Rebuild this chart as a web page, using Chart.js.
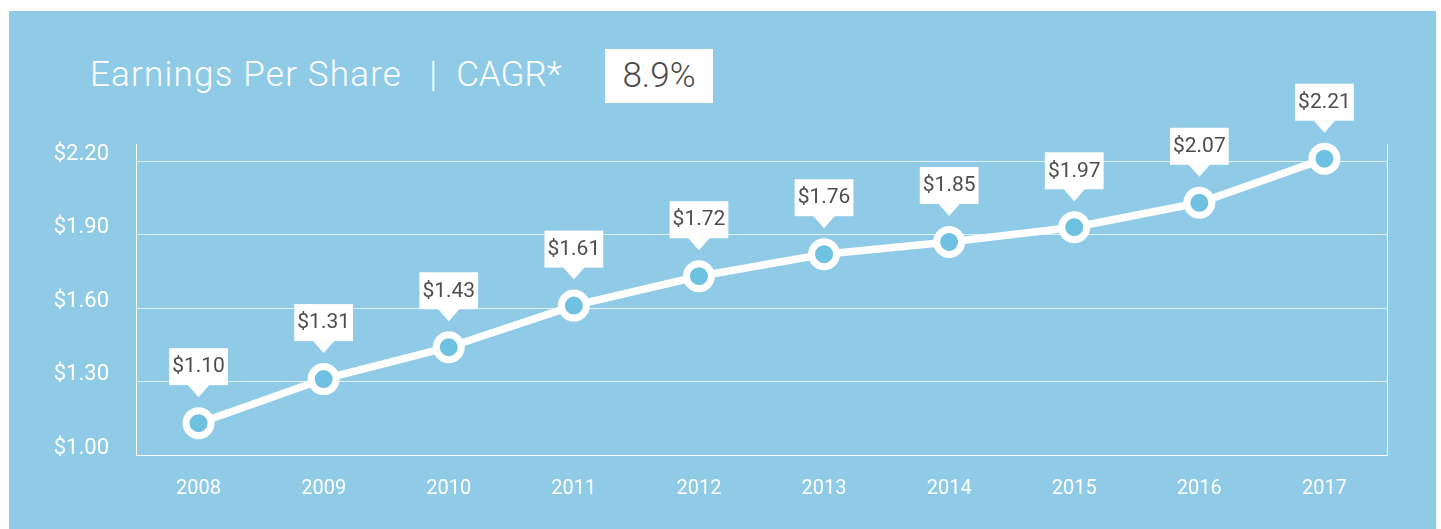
<!DOCTYPE html>
<html>
<head>
<meta charset="utf-8">
<script src="https://cdn.jsdelivr.net/npm/chart.js@4"></script>
<style>
  body { margin: 0; background: #ffffff; font-family: Roboto, 'Open Sans', sans-serif; }
  #panel { position: absolute; left: 9px; top: 11px; width: 1427px; height: 518px; background: #8fcbe7; }
  #title { position: absolute; left: 81px; top: 43px; color: #ffffff; font-size: 35px; font-weight: 300;
           letter-spacing: 1.2px; white-space: nowrap; }
  #title .sep { margin: 0 18px 0 27px; }
  #title .cagr-label { letter-spacing: 0; }
  #cagr { position: absolute; left: 596px; top: 38px; width: 108px; height: 54px; background: #ffffff;
          color: #4a4a4a; font-size: 35px; font-weight: 300; text-align: center; line-height: 54px; }
  #chart { position: absolute; left: 0; top: 0; }
</style>
</head>
<body>
<div id="panel">
  <div id="title">Earnings Per Share<span class="sep">|</span><span class="cagr-label">CAGR*</span></div>
  <div id="cagr">8.9%</div>
  <canvas id="chart" width="1427" height="518"></canvas>
</div>
<script>
  // Years on the x axis
  const years = ['2008', '2009', '2010', '2011', '2012', '2013', '2014', '2015', '2016', '2017'];
  // EPS printed in the callouts
  const eps = [1.10, 1.31, 1.43, 1.61, 1.72, 1.76, 1.85, 1.97, 2.07, 2.21];
  // Heights the points are drawn at in the original
  const plotted = [1.13, 1.31, 1.44, 1.61, 1.73, 1.82, 1.87, 1.93, 2.03, 2.21];
  // Y axis tick values
  const yTicks = [1.00, 1.30, 1.60, 1.90, 2.20];

  // Callout boxes with a small pointer above each point
  const calloutPlugin = {
    id: 'callouts',
    afterDatasetsDraw(chart) {
      const ctx = chart.ctx;
      const meta = chart.getDatasetMeta(0);
      ctx.save();
      ctx.font = '400 21px Roboto';
      ctx.textAlign = 'center';
      ctx.textBaseline = 'middle';
      meta.data.forEach((pt, i) => {
        const text = '$' + eps[i].toFixed(2);
        const w = ctx.measureText(text).width + 6;
        const bottom = pt.y - 38;
        const top = bottom - 37;
        ctx.fillStyle = '#ffffff';
        ctx.fillRect(pt.x - w / 2, top, w, 37);
        ctx.beginPath();
        ctx.moveTo(pt.x - 11, bottom - 0.5);
        ctx.lineTo(pt.x + 11, bottom - 0.5);
        ctx.lineTo(pt.x, bottom + 12);
        ctx.closePath();
        ctx.fill();
        ctx.fillStyle = '#4d4d4d';
        ctx.fillText(text, pt.x, top + 19);
      });
      ctx.restore();
    }
  };

  const ctx = document.getElementById('chart').getContext('2d');
  new Chart(ctx, {
    type: 'line',
    data: {
      labels: years,
      datasets: [{
        data: plotted,
        borderColor: '#ffffff',
        borderWidth: 7.5,
        tension: 0,
        pointRadius: 12.5,
        pointHoverRadius: 12.5,
        pointBorderWidth: 7,
        pointBorderColor: '#ffffff',
        pointBackgroundColor: '#6ec1e1',
        clip: false
      }]
    },
    options: {
      responsive: false,
      animation: false,
      layout: { padding: { top: 133, right: 49, left: 0, bottom: 0 } },
      scales: {
        x: {
          offset: true,
          grid: {
            display: true,
            offset: true,
            drawTicks: false,
            lineWidth: 1,
            color: (c) => (c.index === undefined || c.index === 0) ? '#ffffff' : 'rgba(0,0,0,0)'
          },
          border: { display: true, color: '#ffffff', width: 1 },
          ticks: { color: '#ffffff', font: { family: 'Roboto', size: 20 }, padding: 22 },
          afterFit(scale) { scale.height = 74; }
        },
        y: {
          min: 1.0,
          max: 2.27,
          grid: { color: 'rgba(255,255,255,0.7)', lineWidth: 1, drawTicks: false },
          border: { display: true, color: '#ffffff', width: 1 },
          afterBuildTicks(scale) { scale.ticks = yTicks.map(v => ({ value: v })); },
          ticks: {
            color: '#ffffff',
            font: { family: 'Roboto', size: 22 },
            padding: 27,
            labelOffset: -7,
            callback: (v) => '$' + Number(v).toFixed(2)
          },
          afterFit(scale) { scale.width = 127; }
        }
      },
      plugins: {
        legend: { display: false },
        tooltip: { enabled: false }
      }
    },
    plugins: [calloutPlugin]
  });
</script>
</body>
</html>
